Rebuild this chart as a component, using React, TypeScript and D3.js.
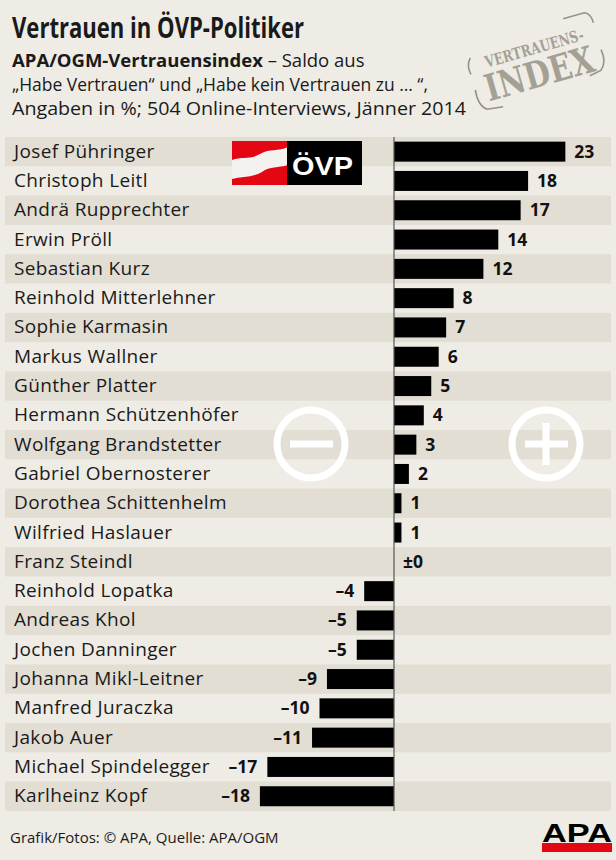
import React from "react";
import * as d3 from "d3";

const names = [
  "Josef Pühringer", "Christoph Leitl", "Andrä Rupprechter", "Erwin Pröll",
  "Sebastian Kurz", "Reinhold Mitterlehner", "Sophie Karmasin", "Markus Wallner",
  "Günther Platter", "Hermann Schützenhöfer", "Wolfgang Brandstetter",
  "Gabriel Obernosterer", "Dorothea Schittenhelm", "Wilfried Haslauer",
  "Franz Steindl", "Reinhold Lopatka", "Andreas Khol", "Jochen Danninger",
  "Johanna Mikl-Leitner", "Manfred Juraczka", "Jakob Auer",
  "Michael Spindelegger", "Karlheinz Kopf",
];
const values = [23, 18, 17, 14, 12, 8, 7, 6, 5, 4, 3, 2, 1, 1, 0, -4, -5, -5, -9, -10, -11, -17, -18];

const title = "Vertrauen in ÖVP-Politiker";
const subBold = "APA/OGM-Vertrauensindex";
const subRest = " – Saldo aus";
const sub2 = "„Habe Vertrauen“ und „Habe kein Vertrauen zu … “,";
const sub3 = "Angaben in %; 504 Online-Interviews, Jänner 2014";
const footer = "Grafik/Fotos: © APA, Quelle: APA/OGM";
const stampTop = "VERTRAUENS-";
const stampMain = "INDEX";

const W = 616, H = 860;
const BG = "#eeece5";
const BAND = "#e2ded4";
const FONT = "'Open Sans', sans-serif";

function fmt(v: number) {
  if (v === 0) return "±0";
  if (v < 0) return "–" + Math.abs(v);
  return String(v);
}

export default function App() {
  const x = d3.scaleLinear().domain([-18, 23]).range([394 - 18 * 7.45, 394 + 23 * 7.45]);
  const y = d3.scaleBand<string>().domain(names).range([137, 137 + 23 * 29.3]).paddingInner(0);
  const bw = y.bandwidth();
  const barH = 20;

  return (
    <svg width={W} height={H} style={{ position: "absolute", left: 0, top: 0, display: "block" }}
      xmlns="http://www.w3.org/2000/svg">
      <rect x={0} y={0} width={W} height={H} fill={BG} />

      {/* header */}
      <text x={12} y={38} fontFamily={FONT} fontWeight={700} fontSize={28} fill="#1a1a1a"
        textLength={292} lengthAdjust="spacingAndGlyphs">{title}</text>
      <text x={12} y={67} fontFamily={FONT} fontSize={18.5} fill="#1a1a1a">
        <tspan fontWeight={700}>{subBold}</tspan>
        <tspan>{subRest}</tspan>
      </text>
      <text x={12} y={91} fontFamily={FONT} fontSize={18.5} fill="#1a1a1a"
        textLength={416} lengthAdjust="spacingAndGlyphs">{sub2}</text>
      <text x={12} y={115} fontFamily={FONT} fontSize={18.5} fill="#1a1a1a"
        textLength={454} lengthAdjust="spacingAndGlyphs">{sub3}</text>

      {/* stamp */}
      <g transform="translate(536,62) rotate(-16)" opacity={0.9}>
        <text x={2} y={-8} textAnchor="middle" fontFamily="'DejaVu Serif', serif" fontWeight={700}
          fontSize={16} fill="#9d998c" textLength={102} lengthAdjust="spacingAndGlyphs">{stampTop}</text>
        <text x={0} y={25} textAnchor="middle" fontFamily="'DejaVu Serif', serif" fontWeight={700}
          fontSize={37} fill="#9d998c" textLength={112} lengthAdjust="spacingAndGlyphs">{stampMain}</text>
        <g fill="none" stroke="#8c897f" strokeWidth={1.6}>
          <path d="M -66 -6 Q -68 -16 -62 -22" />
          <path d="M -66 10 Q -68 26 -60 32 L -44 34" />
          <path d="M 38 -34 L 60 -34 Q 66 -32 66 -22" />
          <path d="M 66 6 Q 68 20 60 26 L 48 28" />
        </g>
      </g>

      {/* bands */}
      {names.map((n, i) => i % 2 === 0 ? (
        <rect key={"b" + n} x={5} y={y(n)!} width={606} height={bw} fill={BAND} />
      ) : null)}

      {/* circles */}
      <g fill="none" stroke="#ffffff" strokeWidth={7}>
        <circle cx={311} cy={444} r={34} />
        <circle cx={546} cy={444} r={34} />
      </g>
      <g fill="#ffffff">
        <rect x={290} y={440.5} width={43} height={7} />
        <rect x={525} y={440.5} width={43} height={7} />
        <rect x={542.5} y={423} width={7} height={42} />
      </g>

      {/* ÖVP logo */}
      <g>
        <rect x={232} y={141} width={56} height={44} fill="#e30613" />
        <path d="M 232 160 C 242 156, 250 160, 260 154 C 270 148, 278 152, 288 147 L 288 165 C 278 168, 270 166, 262 172 C 252 178, 242 176, 232 179 Z" fill="#f4f2f0" />
        <rect x={287} y={141} width={75} height={44} fill="#000000" />
        <text x={292} y={175} fontFamily="'Liberation Sans', Arial, sans-serif"
          fontWeight={700} fontSize={25} fill="#ffffff" textLength={61} lengthAdjust="spacingAndGlyphs">ÖVP</text>
      </g>

      {/* bars */}
      {names.map((n, i) => {
        const v = values[i];
        const yc = y(n)! + bw / 2;
        const x0 = x(Math.min(0, v));
        const x1 = x(Math.max(0, v));
        return (
          <g key={n}>
            {v !== 0 && <rect x={x0} y={yc - barH / 2} width={x1 - x0} height={barH} fill="#000" />}
            <text x={14} y={yc + 6} fontFamily={FONT} fontSize={19} letterSpacing={0.35} fill="#1a1a1a">{n}</text>
            <text x={v >= 0 ? x1 + 9 : x0 - 10} y={yc + 6} textAnchor={v >= 0 ? "start" : "end"}
              fontFamily={FONT} fontWeight={700} fontSize={17.5} fill="#111">{fmt(v)}</text>
          </g>
        );
      })}

      {/* zero line */}
      <line x1={x(0)} x2={x(0)} y1={137} y2={137 + 23 * 29.3} stroke="#555" strokeWidth={1.2} />

      {/* footer */}
      <text x={10} y={843} fontFamily={FONT} fontSize={15} fill="#1a1a1a">{footer}</text>
      <g>
        <text x={577} y={842} textAnchor="middle" fontFamily="'Liberation Sans', Arial, sans-serif"
          fontWeight={700} fontSize={25} fill="#000" textLength={70} lengthAdjust="spacingAndGlyphs">APA</text>
        <rect x={542} y={843} width={70} height={9} fill="#e30613" />
      </g>
    </svg>
  );
}
